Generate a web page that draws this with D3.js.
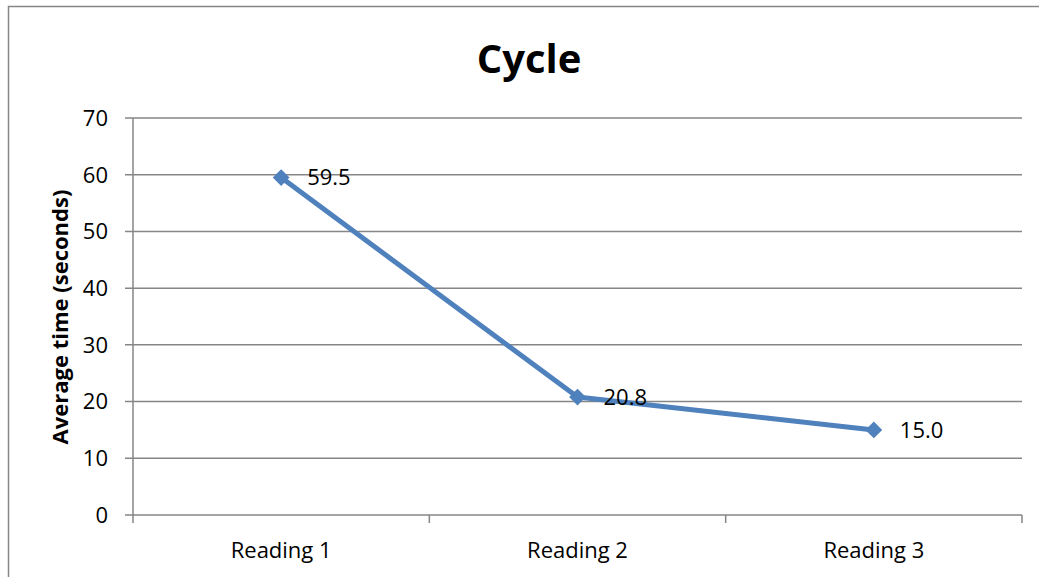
<!DOCTYPE html>
<html>
<head>
<meta charset="utf-8">
<script src="https://cdnjs.cloudflare.com/ajax/libs/d3/7.8.5/d3.min.js"></script>
<style>
  body { margin: 0; background: #fff; }
  svg text { font-family: "Open Sans", sans-serif; fill: #000; }
</style>
</head>
<body>
<div id="chart"></div>
<script>
// chart values
var categories = ["Reading 1", "Reading 2", "Reading 3"];
var values = [59.5, 20.8, 15.0];
var yTicks = [0, 10, 20, 30, 40, 50, 60, 70];

var W = 1039, H = 577;
var margin = { top: 118, right: 17, bottom: 62, left: 133 };
var width = W - margin.left - margin.right,
    height = H - margin.top - margin.bottom;

var svg = d3.select("#chart").append("svg")
    .attr("width", W)
    .attr("height", H);

// outer chart border (runs off right/bottom)
svg.append("rect")
    .attr("x", 8.5).attr("y", 6.5)
    .attr("width", W + 10).attr("height", H + 10)
    .attr("fill", "none")
    .attr("stroke", "#868686")
    .attr("stroke-width", 1.5);

var g = svg.append("g")
    .attr("transform", "translate(" + margin.left + "," + margin.top + ")");

var x = d3.scaleBand().domain(categories).range([0, width]).padding(0);
var y = d3.scaleLinear().domain([0, 70]).range([height, 0]);

// gridlines
g.selectAll(".grid").data(yTicks).enter().append("line")
    .attr("x1", -8).attr("x2", width)
    .attr("y1", function(d) { return y(d); })
    .attr("y2", function(d) { return y(d); })
    .attr("stroke", "#868686")
    .attr("stroke-width", 1.5);

// y axis line
g.append("line")
    .attr("x1", 0).attr("x2", 0)
    .attr("y1", 0).attr("y2", height)
    .attr("stroke", "#868686").attr("stroke-width", 1.5);

// category tick marks at band edges
var edges = categories.map(function(c) { return x(c); }).concat([width]);
g.selectAll(".xtick").data(edges).enter().append("line")
    .attr("x1", function(d) { return d; })
    .attr("x2", function(d) { return d; })
    .attr("y1", height).attr("y2", height + 8)
    .attr("stroke", "#868686").attr("stroke-width", 1.5);

// y tick labels
g.selectAll(".ylab").data(yTicks).enter().append("text")
    .attr("x", -25)
    .attr("y", function(d) { return y(d); })
    .attr("dy", "0.36em")
    .attr("text-anchor", "end")
    .style("font-size", "22px")
    .text(function(d) { return d; });

// x labels
g.selectAll(".xlab").data(categories).enter().append("text")
    .attr("x", function(d) { return x(d) + x.bandwidth() / 2; })
    .attr("y", height + 43)
    .attr("text-anchor", "middle")
    .style("font-size", "22px")
    .text(function(d) { return d; });

// title
svg.append("text")
    .attr("x", 529).attr("y", 73)
    .attr("text-anchor", "middle")
    .style("font-size", "40px")
    .style("font-weight", "bold")
    .text("Cycle");

// y axis title
svg.append("text")
    .attr("transform", "translate(68,317) rotate(-90)")
    .attr("text-anchor", "middle")
    .style("font-size", "22px")
    .style("font-weight", "bold")
    .text("Average time (seconds)");

var pts = categories.map(function(c, i) {
    return { cat: c, v: values[i] };
});

var line = d3.line()
    .x(function(d) { return x(d.cat) + x.bandwidth() / 2; })
    .y(function(d) { return y(d.v); });

g.append("path")
    .datum(pts)
    .attr("d", line)
    .attr("fill", "none")
    .attr("stroke", "#4F81BD")
    .attr("stroke-width", 5)
    .attr("stroke-linejoin", "round");

g.selectAll(".marker").data(pts).enter().append("path")
    .attr("transform", function(d) {
        return "translate(" + (x(d.cat) + x.bandwidth() / 2) + "," + y(d.v) + ")";
    })
    .attr("d", d3.symbol().type(d3.symbolDiamond2).size(180))
    .attr("fill", "#4F81BD");

g.selectAll(".dlab").data(pts).enter().append("text")
    .attr("x", function(d) { return x(d.cat) + x.bandwidth() / 2 + 26; })
    .attr("y", function(d) { return y(d.v); })
    .attr("dy", "0.36em")
    .style("font-size", "22px")
    .text(function(d) { return d.v.toFixed(1); });
</script>
</body>
</html>
